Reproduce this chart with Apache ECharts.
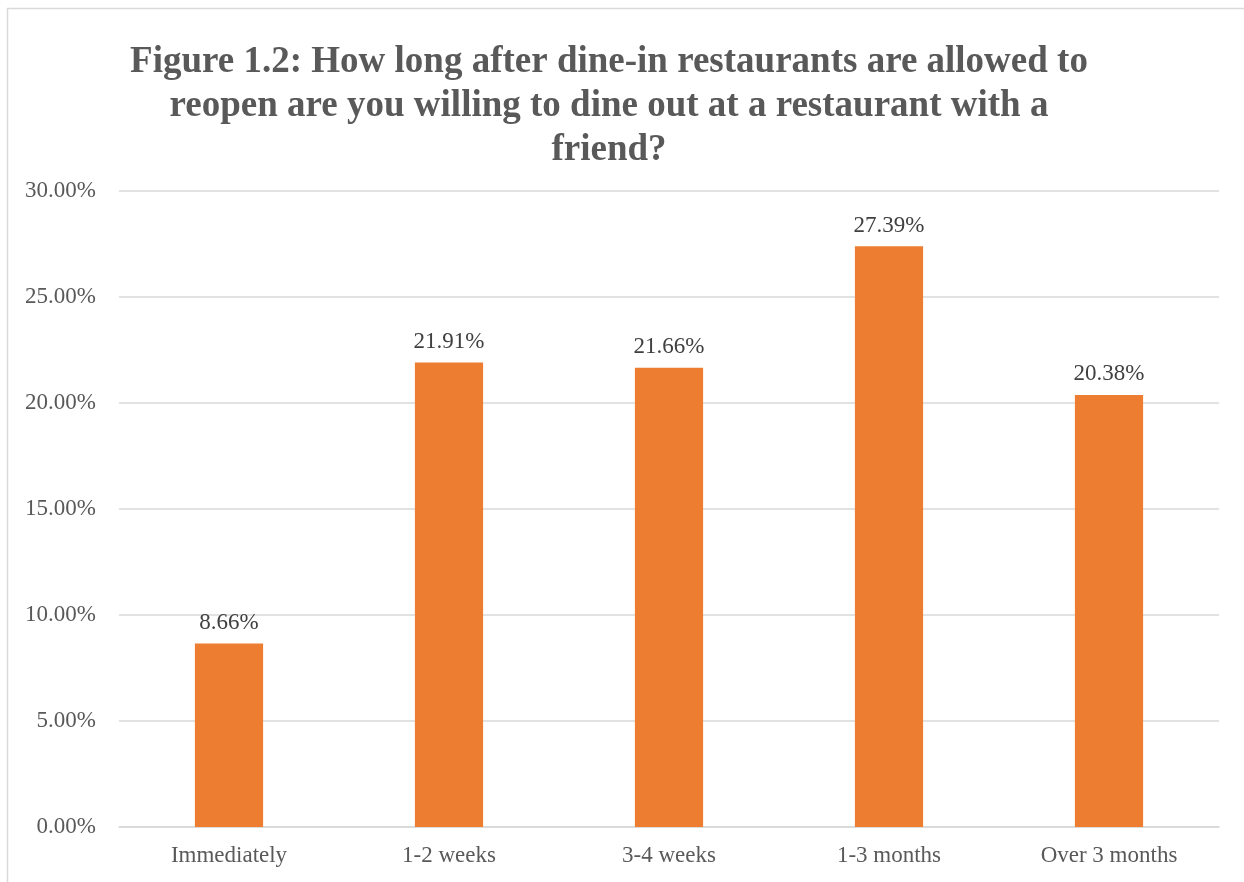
<!DOCTYPE html>
<html>
<head>
<meta charset="utf-8">
<script src="https://cdn.jsdelivr.net/npm/echarts@6/dist/echarts.min.js"></script>
<style>
    html, body { margin: 0; padding: 0; background: #ffffff; }
    #chart { width: 1244px; height: 882px; }
</style>
</head>
<body>
<div id="chart"></div>
<script>
const categories = ["Immediately", "1-2 weeks", "3-4 weeks", "1-3 months", "Over 3 months"];
const shares = [8.66, 21.91, 21.66, 27.39, 20.38];
const yTicks = [0, 5, 10, 15, 20, 25, 30];

const titleText =
    "Figure 1.2: How long after dine-in restaurants are allowed to\n" +
    "reopen are you willing to dine out at a restaurant with a\n" +
    "friend?";

const serif = "'Liberation Serif', 'Times New Roman', serif";

let chartDom = document.getElementById("chart");
let myChart = echarts.init(chartDom);

let option = {
    animation: false,
    graphic: [{
        type: "rect",
        shape: { x: 7.5, y: 8.5, width: 1300, height: 1000 },
        style: { fill: "none", stroke: "#d9d9d9", lineWidth: 1.5 },
        silent: true,
    }],
    title: {
        text: titleText,
        left: 604,
        top: 35,
        textAlign: "center",
        textStyle: {
            fontFamily: serif,
            fontWeight: "bold",
            fontSize: 37,
            lineHeight: 44,
            color: "#595959",
        },
    },
    grid: { left: 119, right: 25, top: 191, bottom: 55 },
    xAxis: {
        type: "category",
        data: categories,
        axisLine: { lineStyle: { color: "#d9d9d9", width: 1.5 } },
        axisTick: { show: false },
        axisLabel: {
            fontFamily: serif,
            fontSize: 23,
            color: "#595959",
            margin: 17,
        },
    },
    yAxis: {
        type: "value",
        min: yTicks[0],
        max: yTicks[yTicks.length - 1],
        interval: 5,
        axisLine: { show: false },
        axisTick: { show: false },
        splitLine: { lineStyle: { color: "#d9d9d9", width: 1.5 } },
        axisLabel: {
            fontFamily: serif,
            fontSize: 23,
            color: "#595959",
            margin: 23,
            formatter: (v) => v.toFixed(2) + "%",
        },
    },
    series: [{
        type: "bar",
        data: shares,
        barWidth: "31%",
        itemStyle: { color: "#ED7D31" },
        label: {
            show: true,
            position: "top",
            distance: 9,
            fontFamily: serif,
            fontSize: 23,
            color: "#404040",
            formatter: (p) => p.value.toFixed(2) + "%",
        },
    }],
};

option && myChart.setOption(option);
</script>
</body>
</html>
